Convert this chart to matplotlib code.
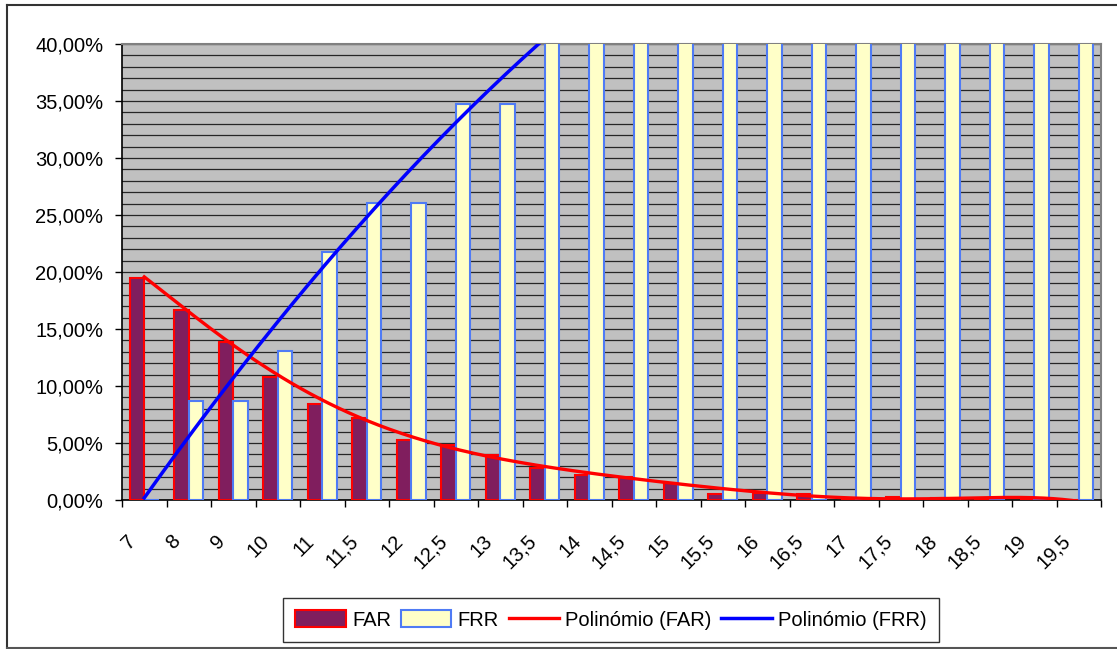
import numpy as np
import matplotlib
matplotlib.use("Agg")
import matplotlib.pyplot as plt
from matplotlib.ticker import FuncFormatter, MultipleLocator
from matplotlib.transforms import ScaledTranslation
from matplotlib.patches import Patch
from matplotlib.lines import Line2D

plt.rcParams['font.family'] = ['Liberation Sans', 'DejaVu Sans']

# Threshold categories and error rates (%)
categories = ["7", "8", "9", "10", "11", "11,5", "12", "12,5", "13", "13,5", "14",
              "14,5", "15", "15,5", "16", "16,5", "17", "17,5", "18", "18,5", "19", "19,5"]
far = [19.44, 16.67, 13.89, 10.76, 8.40, 7.17, 5.24, 4.80, 3.98, 2.80, 2.15,
       2.05, 1.52, 0.55, 0.60, 0.50, 0.20, 0.25, 0.20, 0.12, 0.0, 0.0]
frr = [0.0, 8.70, 8.70, 13.04, 21.74, 26.09, 26.09, 34.78, 34.78, 43.48, 43.48,
       47.83, 47.83, 52.17, 56.52, 56.52, 60.87, 60.87, 60.87, 65.22, 65.22, 65.22]
far_degree = 6
frr_degree = 2
y_max = 40

fig = plt.figure(figsize=(11.17, 6.49), dpi=100)
ax = fig.add_axes([122 / 1117, 1 - 500 / 649, (1101 - 122) / 1117, (500 - 44) / 649])
ax.set_facecolor('#C0C0C0')

x = np.arange(len(categories))
w = 0.33
ax.bar(x - w / 2, far, width=w, color='#801E5E', edgecolor='#FF0000',
       linewidth=1.5, zorder=3)
ax.bar(x + w / 2, frr, width=w, color='#FFFFC8', edgecolor='#4F7BF5',
       linewidth=1.5, zorder=3)

# Polynomial trend lines
xs = np.linspace(x[0], x[-1], 400)
far_fit = np.polyval(np.polyfit(x, far, far_degree), xs)
frr_fit = np.polyval(np.polyfit(x, frr, frr_degree), xs)
ax.plot(xs, far_fit, color='#FF0000', linewidth=2.4, zorder=4)
ax.plot(xs, frr_fit, color='#0000FF', linewidth=2.5, zorder=4)

ax.set_xlim(-0.5, len(categories) - 0.5)
ax.set_ylim(0, y_max)

# y axis: 1% grid, 5% labels
ax.yaxis.set_major_locator(MultipleLocator(5))
ax.yaxis.set_minor_locator(MultipleLocator(1))
ax.yaxis.set_major_formatter(FuncFormatter(lambda v, p: f"{v:.2f}%".replace('.', ',')))
ax.grid(axis='y', which='both', color='#262626', linewidth=0.9, zorder=1)
ax.set_axisbelow(True)
ax.tick_params(axis='y', which='major', length=5, width=1, labelsize=14.5, pad=8.5)
ax.tick_params(axis='y', which='minor', length=0)

# x axis: tick marks between categories, labels at category centers
ax.set_xticks(np.arange(len(categories) + 1) - 0.5)
ax.set_xticklabels([])
ax.set_xticks(x, minor=True)
ax.set_xticklabels(categories, minor=True, rotation=45, ha='right', va='center',
                   rotation_mode='anchor')
ax.tick_params(axis='x', which='major', length=5, width=1, direction='out')
ax.tick_params(axis='x', which='minor', length=0, labelsize=14.5, pad=27.5)
offset = ScaledTranslation(-8 / 72, 0, fig.dpi_scale_trans)
for lab in ax.xaxis.get_minorticklabels():
    lab.set_transform(lab.get_transform() + offset)

for s in ['left', 'bottom']:
    ax.spines[s].set_color('black')
    ax.spines[s].set_linewidth(1.2)
for s in ['top', 'right']:
    ax.spines[s].set_color('#808080')
    ax.spines[s].set_linewidth(1.5)

handles = [Patch(facecolor='#801E5E', edgecolor='#FF0000', linewidth=1.5),
           Patch(facecolor='#FFFFC8', edgecolor='#4F7BF5', linewidth=1.5),
           Line2D([], [], color='#FF0000', linewidth=2.4),
           Line2D([], [], color='#0000FF', linewidth=2.5)]
leg = fig.legend(handles, ['FAR', 'FRR', 'Polinómio (FAR)', 'Polinómio (FRR)'],
                 loc='center', bbox_to_anchor=(611 / 1117, 1 - 620 / 649), ncol=4,
                 fontsize=14.5, frameon=True, fancybox=False, edgecolor='black',
                 handlelength=2.5, handleheight=0.9, handletextpad=0.3,
                 columnspacing=0.5, borderpad=0.6)
leg.get_frame().set_linewidth(1.0)

# chart area frame
fig.add_artist(Line2D([7 / 1117, 7 / 1117], [1 - 648 / 649, 1 - 5 / 649],
                      transform=fig.transFigure, color='#333333', linewidth=1.5))
fig.add_artist(Line2D([7 / 1117, 1], [1 - 5 / 649, 1 - 5 / 649],
                      transform=fig.transFigure, color='#333333', linewidth=1.5))
fig.add_artist(Line2D([7 / 1117, 1], [1 - 648 / 649, 1 - 648 / 649],
                      transform=fig.transFigure, color='#555555', linewidth=1.5))

fig.savefig('out.png', dpi=100)
